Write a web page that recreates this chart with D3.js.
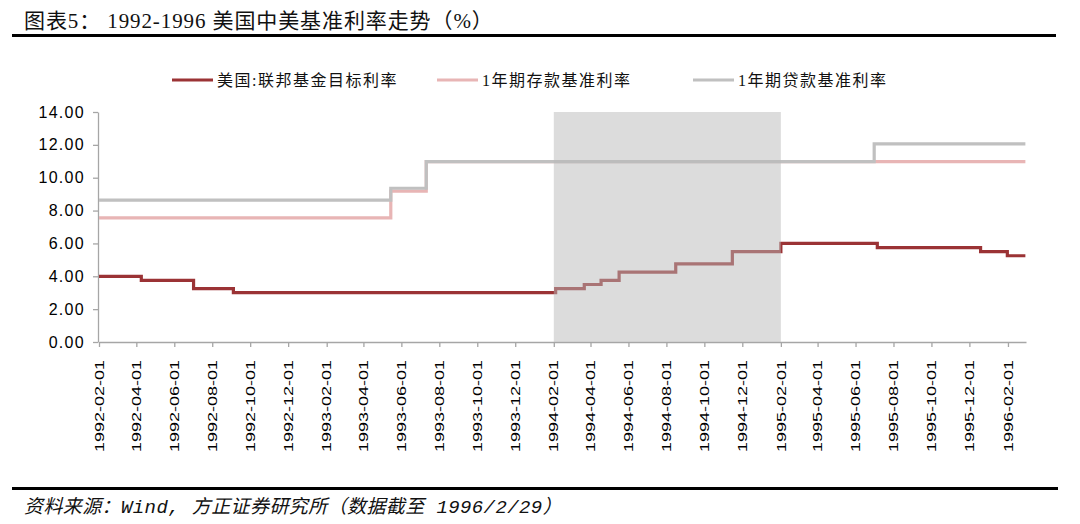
<!DOCTYPE html>
<html>
<head>
<meta charset="utf-8">
<script src="https://cdn.jsdelivr.net/npm/d3@7"></script>
<style>
    body { margin: 0; background: #fff; }
    svg { display: block; }
</style>
</head>
<body>
<div id="root"></div>
<script>
// data (step series, value holds until next date)
var fedDates = ["1992-02-01", "1992-04-09", "1992-07-02", "1992-09-04", "1994-02-04", "1994-03-22",
    "1994-04-18", "1994-05-17", "1994-08-16", "1994-11-15", "1995-02-01", "1995-07-06",
    "1995-12-19", "1996-01-31", "1996-02-29"];
var fedRates = [4.00, 3.75, 3.25, 3.00, 3.25, 3.50, 3.75, 4.25, 4.75, 5.50, 6.00, 5.75, 5.50, 5.25, 5.25];

var depositDates = ["1992-02-01", "1993-05-15", "1993-07-11", "1996-02-29"];
var depositRates = [7.56, 9.18, 10.98, 10.98];

var loanDates = ["1992-02-01", "1993-05-15", "1993-07-11", "1995-07-01", "1996-02-29"];
var loanRates = [8.64, 9.36, 10.98, 12.06, 12.06];

var seriesNames = ["美国:联邦基金目标利率", "1年期存款基准利率", "1年期贷款基准利率"];
var shadeRange = ["1994-02-01", "1995-02-01"];
var yTicks = [0, 2, 4, 6, 8, 10, 12, 14];
var xTickStart = "1992-02-01", xTickEnd = "1996-02-01";

var width = 1080, height = 524;
var parse = d3.timeParse("%Y-%m-%d");

var svg = d3.select("#root")
    .append("svg")
    .attr("width", width)
    .attr("height", height);

// title + rules
svg.append("text")
    .attr("x", 24)
    .attr("y", 28)
    .text("图表5：  1992-1996 美国中美基准利率走势（%）")
    .style("font-family", "'Liberation Serif', 'Noto Sans CJK SC'")
    .style("font-size", "21px")
    .style("letter-spacing", "0.9px")
    .style("fill", "#111");
svg.append("line")
    .attr("x1", 12).attr("x2", 1056)
    .attr("y1", 35.5).attr("y2", 35.5)
    .style("stroke", "#000")
    .style("stroke-width", 3);
svg.append("line")
    .attr("x1", 12).attr("x2", 1058)
    .attr("y1", 488.5).attr("y2", 488.5)
    .style("stroke", "#000")
    .style("stroke-width", 3);
svg.append("text")
    .attr("x", 24)
    .attr("y", 513)
    .text("资料来源：Wind, 方正证券研究所（数据截至 1996/2/29）")
    .style("font-family", "'Liberation Mono', 'Noto Sans CJK SC'")
    .style("font-style", "italic")
    .style("font-size", "19px")
    .style("letter-spacing", "0.4px")
    .style("fill", "#111");

// scales
var x = d3.scaleTime()
    .domain([parse("1992-02-01"), parse("1996-03-01")])
    .range([99, 1026]);
var y = d3.scaleLinear()
    .domain([0, 14])
    .range([342, 112]);

// axes, a tick every two months from Feb 1992
var xTickValues = d3.timeMonth.range(parse(xTickStart), d3.timeDay.offset(parse(xTickEnd), 1), 2);

var xAxis = svg.append("g")
    .attr("transform", "translate(0,342)")
    .call(d3.axisBottom(x)
        .tickValues(xTickValues)
        .tickSize(5)
        .tickSizeOuter(0)
        .tickFormat(d3.timeFormat("%Y-%m-%d")));
// labels look stretched along the text in the original
xAxis.selectAll("text")
    .attr("transform", "rotate(-90) scale(1.5,1)")
    .attr("text-anchor", "end")
    .attr("x", -18 / 1.5)
    .attr("y", 0)
    .attr("dy", "0.35em")
    .style("font-family", "'Liberation Sans', Arial")
    .style("font-size", "12px")
    .style("fill", "#000");

var yAxis = svg.append("g")
    .attr("transform", "translate(98,0)")
    .call(d3.axisLeft(y)
        .tickValues(yTicks)
        .tickSize(5)
        .tickSizeOuter(0)
        .tickPadding(8)
        .tickFormat(d3.format(".2f")));
yAxis.selectAll("text")
    .style("font-family", "'Liberation Sans', Arial")
    .style("font-size", "16px")
    .style("letter-spacing", "1.3px")
    .style("fill", "#000");

svg.selectAll(".domain, .tick line")
    .style("stroke", "#a6a6a6")
    .style("stroke-width", 1.3);

// lines
var line = d3.line()
    .x((d) => x(d.date))
    .y((d) => y(d.value))
    .curve(d3.curveStepAfter);

function toPoints(dates, values) {
    return dates.map((d, i) => ({ date: parse(d), value: values[i] }));
}

var series = [
    { pts: toPoints(depositDates, depositRates), color: "#e8b5b5" },
    { pts: toPoints(loanDates, loanRates), color: "#c0c0c0" },
    { pts: toPoints(fedDates, fedRates), color: "#9b3335" }
];

svg.append("g")
    .selectAll("path")
    .data(series)
    .enter()
    .append("path")
    .attr("d", (d) => line(d.pts))
    .style("fill", "none")
    .style("stroke", (d) => d.color)
    .style("stroke-width", 3.2);

// shaded period on top of the lines
svg.append("rect")
    .attr("x", x(parse(shadeRange[0])))
    .attr("width", x(parse(shadeRange[1])) - x(parse(shadeRange[0])))
    .attr("y", y(14))
    .attr("height", y(0) - y(14))
    .style("fill", "#b7b7b7")
    .style("opacity", 0.49);

// legend
var legendColors = ["#9b3335", "#e8b5b5", "#c0c0c0"];
var legendX = [172, 437, 693];
seriesNames.forEach((name, i) => {
    svg.append("line")
        .attr("x1", legendX[i]).attr("x2", legendX[i] + 41)
        .attr("y1", 80).attr("y2", 80)
        .style("stroke", legendColors[i])
        .style("stroke-width", 3.2);
    svg.append("text")
        .attr("x", legendX[i] + 45)
        .attr("y", 86)
        .text(name)
        .style("font-family", "'Liberation Serif', 'Noto Sans CJK SC'")
        .style("font-size", "16px")
        .style("letter-spacing", "1.5px")
        .style("fill", "#111");
});
</script>
</body>
</html>
